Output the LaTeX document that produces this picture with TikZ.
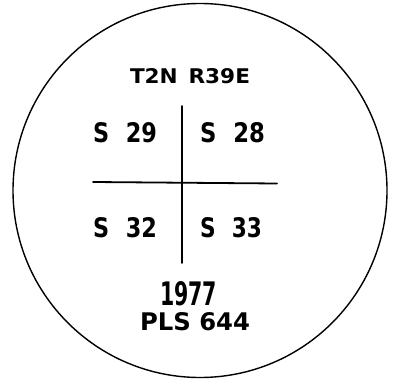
\documentclass[tikz,border=0pt]{standalone}
\usepackage{fontspec}
\setmainfont{DejaVu Sans}
\usepackage{graphicx}
\newcommand{\lett}[3]{\resizebox{#1pt}{#2pt}{\bfseries #3}}
\begin{document}
\begin{tikzpicture}[x=1pt,y=-1pt]
\tikzset{lbl/.style={inner sep=0pt, anchor=center}, rule/.style={line width=1.8pt, line cap=round}}
\useasboundingbox (0,0) rectangle (398,390);
\node[draw, circle, line width=1.4pt, minimum size=374pt, inner sep=0pt] (ring) at (200,190.5) {};
\node[lbl] (tr) at (190,76.5) {\lett{120}{15}{T2N\hspace{0.5em}R39E}};
\node[lbl] (s29) at (125,133) {\lett{64}{20}{S\hspace{0.75em}29}};
\node[lbl] (s28) at (232.5,133) {\lett{65}{20}{S\hspace{0.75em}28}};
\node[lbl] (s32) at (125,228) {\lett{64}{20}{S\hspace{0.75em}32}};
\node[lbl] (s33) at (231,228) {\lett{62}{20}{S\hspace{0.75em}33}};
\node[lbl] (yr) at (188.5,293.5) {\lett{57}{24}{1977}};
\node[lbl] (pls) at (195,321.5) {\lett{110}{18}{PLS 644}};
\coordinate (vt) at (182,106);
\coordinate (vb) at (182,263);
\coordinate (hl) at (93,182);
\coordinate (hr) at (277,183.5);
\draw[rule] (vt) -- (vb);
\draw[rule] (hl) -- (hr);
\end{tikzpicture}
\end{document}
